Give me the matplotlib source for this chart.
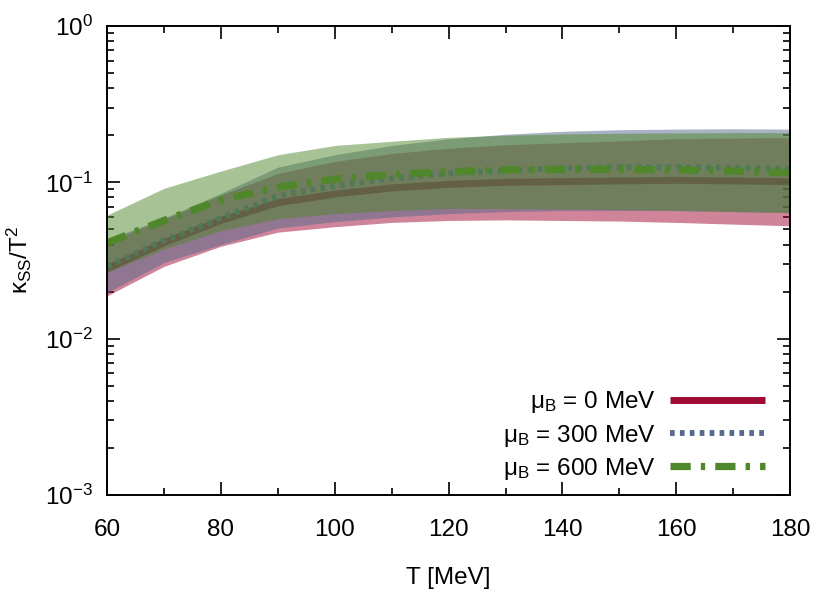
import numpy as np
import matplotlib
matplotlib.use('Agg')
import matplotlib.pyplot as plt

# temperatures and kappa_SS/T^2 (central value, band edges)
T = [60, 70, 80, 90, 100, 110, 120, 130, 140, 150, 160, 170, 180]

mu0_mid = [0.028, 0.041, 0.057, 0.074, 0.084, 0.092, 0.097, 0.100, 0.101, 0.102, 0.103, 0.102, 0.101]
mu0_lo = [0.0188, 0.029, 0.039, 0.048, 0.052, 0.0554, 0.057, 0.0575, 0.057, 0.0565, 0.0554, 0.054, 0.0527]
mu0_hi = [0.042, 0.058, 0.083, 0.114, 0.136, 0.153, 0.165, 0.174, 0.179, 0.184, 0.190, 0.192, 0.193]

mu300_mid = [0.029, 0.0425, 0.059, 0.082, 0.095, 0.106, 0.114, 0.119, 0.123, 0.125, 0.125, 0.124, 0.122]
mu300_lo = [0.0197, 0.0307, 0.040, 0.051, 0.056, 0.060, 0.063, 0.065, 0.066, 0.066, 0.066, 0.065, 0.064]
mu300_hi = [0.043, 0.059, 0.085, 0.125, 0.150, 0.172, 0.190, 0.203, 0.212, 0.217, 0.219, 0.220, 0.219]

mu600_mid = [0.041, 0.057, 0.077, 0.093, 0.105, 0.112, 0.117, 0.120, 0.121, 0.121, 0.120, 0.118, 0.115]
mu600_lo = [0.0265, 0.0374, 0.049, 0.0585, 0.063, 0.066, 0.068, 0.068, 0.0675, 0.067, 0.066, 0.065, 0.064]
mu600_hi = [0.0617, 0.0915, 0.118, 0.150, 0.172, 0.183, 0.194, 0.200, 0.204, 0.206, 0.207, 0.208, 0.208]

labels = [r'$\mu_{\rm B}$ = 0 MeV', r'$\mu_{\rm B}$ = 300 MeV', r'$\mu_{\rm B}$ = 600 MeV']

if __name__ == '__main__':
    plt.rcParams['font.family'] = 'Liberation Sans'
    plt.rcParams['font.size'] = 17.5
    plt.rcParams['mathtext.fontset'] = 'custom'
    plt.rcParams['mathtext.rm'] = 'Liberation Sans'
    plt.rcParams['mathtext.it'] = 'Liberation Sans'
    plt.rcParams['mathtext.default'] = 'regular'

    colors = ['#a00a37', '#55698c', '#50872a']
    styles = ['-', (0, (0.8, 0.9)), (0, (2.8, 1.4, 0.6, 1.4))]
    widths = [5.0, 4.2, 5.2]
    mids = [mu0_mid, mu300_mid, mu600_mid]
    lows = [mu0_lo, mu300_lo, mu600_lo]
    highs = [mu0_hi, mu300_hi, mu600_hi]

    fig = plt.figure(figsize=(8.3, 6.04), dpi=100)
    ax = fig.add_axes([0.129, 0.1805, 0.823, 0.7765])

    # each curve first, then its band on top (like the gnuplot original)
    for i in range(3):
        ax.plot(T, mids[i], color=colors[i], linestyle=styles[i], linewidth=widths[i],
                dash_capstyle='butt', solid_capstyle='butt', label=labels[i], zorder=1 + 2 * i)
        ax.fill_between(T, lows[i], highs[i], color=colors[i], alpha=0.5, linewidth=0, zorder=2 + 2 * i)

    ax.set_yscale('log')
    ax.set_xlim(60, 180)
    ax.set_ylim(1e-3, 1)
    ax.set_xticks(range(60, 181, 20))
    ax.set_xticks(range(70, 181, 20), minor=True)
    ax.tick_params(which='both', direction='in', top=True, right=True, width=1.2)
    ax.tick_params(which='major', length=9.5)
    ax.tick_params(which='minor', length=4.8)
    ax.tick_params(axis='x', which='both', pad=17)
    ax.tick_params(axis='y', which='both', pad=10)
    for s in ax.spines.values():
        s.set_linewidth(1.4)
        s.set_zorder(10)

    ax.set_xlabel('T [MeV]', labelpad=19)
    ax.set_ylabel(r'$\kappa_{\rm SS}/\rm T^2$', labelpad=8)

    leg = ax.legend(loc='lower right', bbox_to_anchor=(0.963, 0.028), frameon=False,
                    markerfirst=False, handlelength=3.9, handletextpad=0.6,
                    labelspacing=0.3, borderpad=0, borderaxespad=0)

    plt.savefig('out.png', dpi=100)
    plt.close()
